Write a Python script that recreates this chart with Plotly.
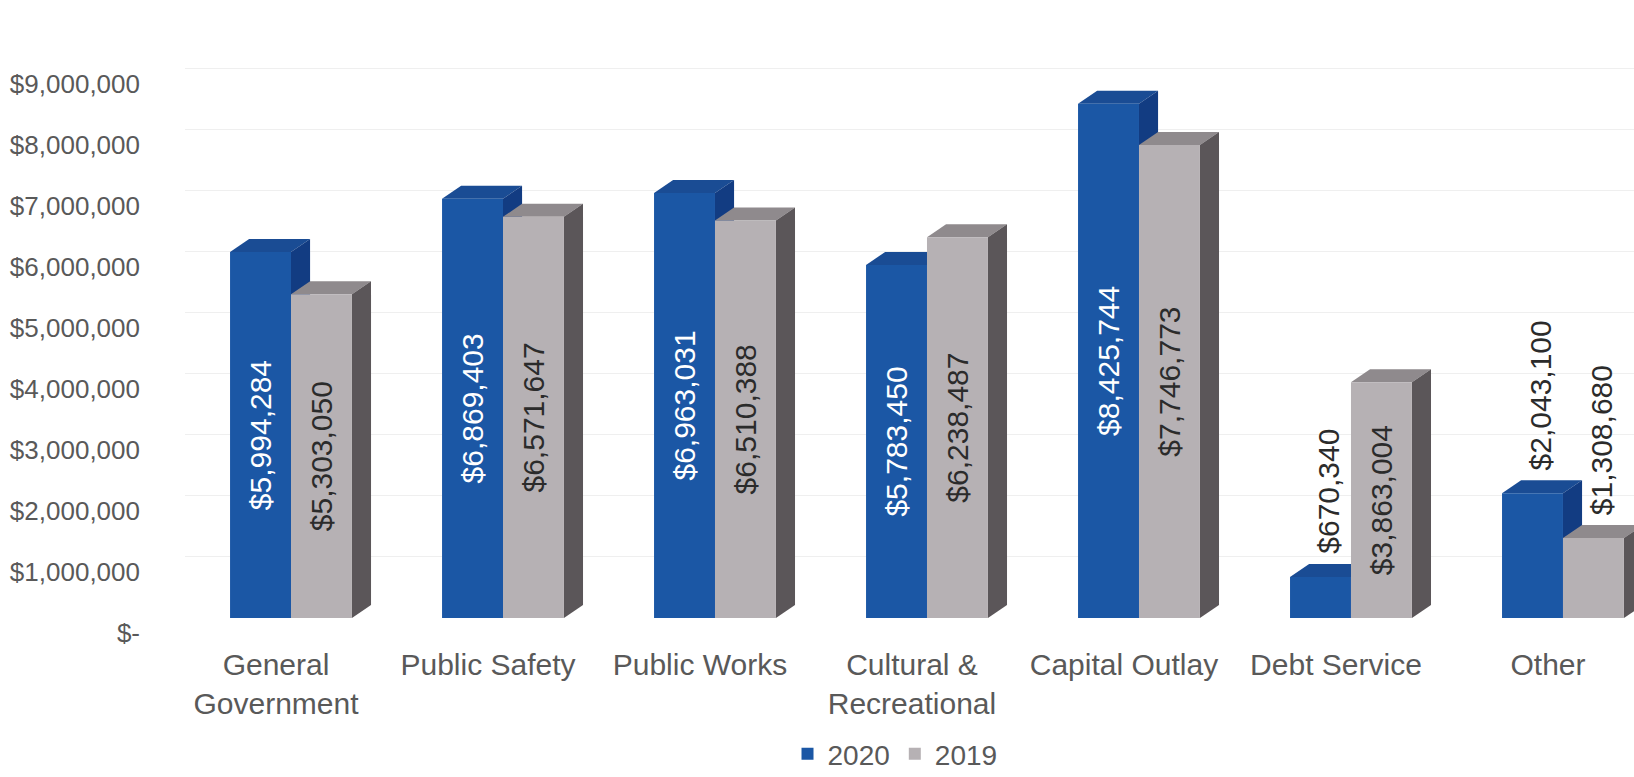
import plotly.graph_objects as go

categories = ["General<br>Government", "Public Safety", "Public Works",
              "Cultural &<br>Recreational", "Capital Outlay", "Debt Service", "Other"]
values_2020 = [5994284, 6869403, 6963031, 5783450, 8425744, 670340, 2043100]
values_2019 = [5303050, 6571647, 6510388, 6238487, 7746773, 3863004, 1308680]
tick_values = [0, 1e6, 2e6, 3e6, 4e6, 5e6, 6e6, 7e6, 8e6, 9e6]
tick_labels = ["$-", "$1,000,000", "$2,000,000", "$3,000,000", "$4,000,000",
               "$5,000,000", "$6,000,000", "$7,000,000", "$8,000,000", "$9,000,000"]

FONT = "Liberation Sans, Arial, sans-serif"
BLUE, BLUE_TOP, BLUE_SIDE = "#1b57a5", "#1a4c94", "#123c82"
GRAY, GRAY_TOP, GRAY_SIDE = "#b6b1b4", "#8f8a8d", "#5b5659"
LABEL_DARK = "#2b2b2b"

BARGAP = 0.425
bar_w = (1 - BARGAP) / 2
DX = 0.09        # depth offset in category units
DY = 213000      # depth offset in value units
INSIDE_MIN = 3e6  # labels of shorter bars go above the bar

def fmt(v):
    return "${:,.0f}".format(v)

x_idx = list(range(len(categories)))

fig = go.Figure()
series = [("2020", values_2020, BLUE, BLUE_TOP, BLUE_SIDE, "white"),
          ("2019", values_2019, GRAY, GRAY_TOP, GRAY_SIDE, LABEL_DARK)]

shapes = []
annotations = []
for s, (name, vals, col, top_c, side_c, txt_c) in enumerate(series):
    fig.add_trace(go.Bar(
        x=x_idx, y=vals, name=name, marker=dict(color=col, line_width=0),
        text=[fmt(v) if v >= INSIDE_MIN else "" for v in vals],
        textposition="inside", textangle=-90, insidetextanchor="middle",
        insidetextfont=dict(color=txt_c, size=30, family=FONT),
    ))
    off = (-0.5 + s) * bar_w
    for i, v in enumerate(vals):
        x0 = i + off - bar_w / 2
        x1 = i + off + bar_w / 2
        shapes.append(dict(type="path", xref="x", yref="y", layer="between",
                           path=f"M{x0},{v} L{x1},{v} L{x1+DX},{v+DY} L{x0+DX},{v+DY} Z",
                           fillcolor=top_c, line_width=0))
        shapes.append(dict(type="path", xref="x", yref="y", layer="between",
                           path=f"M{x1},0 L{x1},{v} L{x1+DX},{v+DY} L{x1+DX},{DY} Z",
                           fillcolor=side_c, line_width=0))
        if v < INSIDE_MIN:
            annotations.append(dict(x=i + off + DX * 0.4, y=v + DY, xref="x", yref="y",
                                    text=fmt(v), textangle=-90, showarrow=False,
                                    xanchor="center", yanchor="bottom", yshift=8,
                                    font=dict(size=30, color=LABEL_DARK, family=FONT)))

fig.update_layout(
    width=1634, height=777,
    margin=dict(l=185, r=0, t=32, b=159, autoexpand=False),
    paper_bgcolor="white", plot_bgcolor="white",
    barmode="group", bargap=BARGAP, bargroupgap=0,
    shapes=shapes, annotations=annotations,
    font=dict(family=FONT, color="#595959", size=26),
    showlegend=True,
    legend=dict(orientation="h", x=0.49, xanchor="center", y=-0.232, yanchor="middle",
                font=dict(size=28, color="#595959", family=FONT),
                itemwidth=30, tracegroupgap=0),
    xaxis=dict(range=[-0.5, 6.335], tickmode="array", tickvals=x_idx, ticktext=categories,
               showgrid=False, zeroline=False, showline=False, ticks="", automargin=False,
               tickfont=dict(size=30, color="#595959", family=FONT),
               ticklabelstandoff=26, ticklabelshift=-15),
    yaxis=dict(range=[0, 9.6e6], tickmode="array", tickvals=tick_values, ticktext=tick_labels,
               showgrid=True, gridcolor="#efefef", gridwidth=1, zeroline=False, showline=False,
               ticks="", automargin=False, tickfont=dict(size=26, color="#595959", family=FONT),
               ticklabelstandoff=44, ticklabelshift=15),
)

fig.write_html("out.html")
